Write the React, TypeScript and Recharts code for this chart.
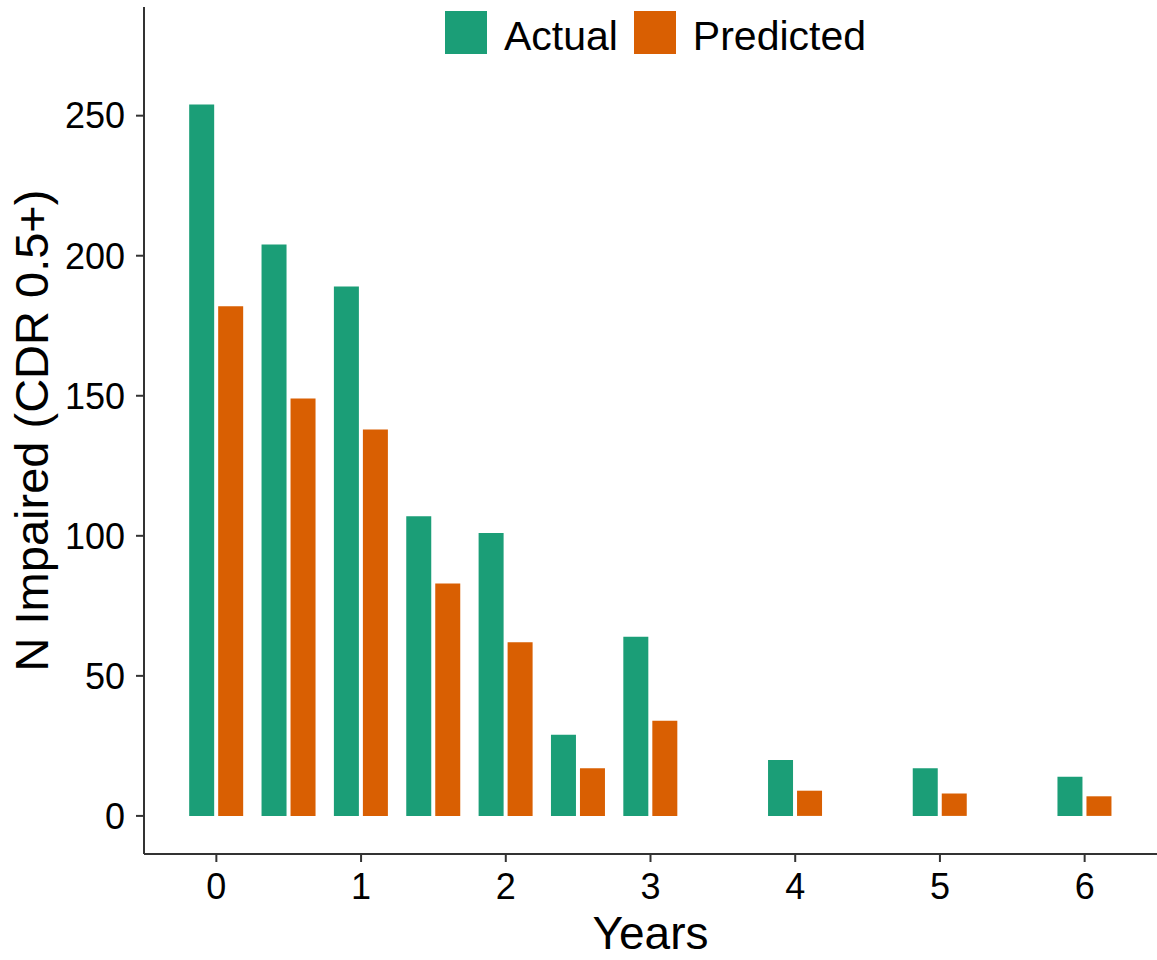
import React from 'react';
import { BarChart, Bar, XAxis, YAxis, Legend } from 'recharts';

// Time since baseline (years) and counts of impaired participants
const years = [0, 0.5, 1, 1.5, 2, 2.5, 3, 4, 5, 6];
const actual = [254, 204, 189, 107, 101, 29, 64, 20, 17, 14];
const predicted = [182, 149, 138, 83, 62, 17, 34, 9, 8, 7];

const xTicks = [0, 1, 2, 3, 4, 5, 6];
const yTicks = [0, 50, 100, 150, 200, 250];

const data = years.map((year, i) => ({
  year,
  Actual: actual[i],
  Predicted: predicted[i],
}));

const FONT = '"Liberation Sans", Arial, sans-serif';
const AXIS_COLOR = '#333333';

function LegendContent({ payload }: any) {
  return (
    <div
      style={{
        display: 'flex',
        justifyContent: 'center',
        alignItems: 'center',
        paddingLeft: 26,
        fontFamily: FONT,
        fontSize: 41,
        color: '#000',
      }}
    >
      {(payload || []).map((entry: any) => (
        <div key={entry.value} style={{ display: 'flex', alignItems: 'center', marginRight: 16 }}>
          <div style={{ width: 42, height: 43, backgroundColor: entry.color, marginRight: 17 }} />
          <span style={{ lineHeight: '43px', position: 'relative', top: 4 }}>{entry.value}</span>
        </div>
      ))}
    </div>
  );
}

export default function App() {
  return (
    <div style={{ position: 'absolute', left: 0, top: 0, background: '#fff' }}>
      <BarChart
        width={1157}
        height={960}
        data={data}
        margin={{ top: 7, right: 0, bottom: 0, left: 0 }}
        barGap={4}
      >
        <XAxis
          dataKey="year"
          type="number"
          domain={[-0.5, 6.5]}
          ticks={xTicks}
          allowDataOverflow
          height={106}
          stroke={AXIS_COLOR}
          strokeWidth={2}
          tickSize={8}
          tickMargin={11}
          tick={{ fill: '#000', fontSize: 36, fontFamily: FONT }}
          label={{
            value: 'Years',
            position: 'insideBottom',
            offset: 11,
            style: { fill: '#000', fontSize: 46, fontFamily: FONT },
          }}
        />
        <YAxis
          type="number"
          domain={[-13.6, 288.8]}
          ticks={yTicks}
          allowDataOverflow
          width={144}
          stroke={AXIS_COLOR}
          strokeWidth={2}
          tickSize={8}
          tickMargin={11}
          tick={{ fill: '#000', fontSize: 36, fontFamily: FONT }}
          label={{
            value: 'N Impaired (CDR 0.5+)',
            angle: -90,
            position: 'insideLeft',
            offset: 31,
            style: { fill: '#000', fontSize: 47, fontFamily: FONT, textAnchor: 'middle' },
          }}
        />
        <Legend
          layout="horizontal"
          verticalAlign="middle"
          align="center"
          wrapperStyle={{ top: 11, left: 144, width: 1013 }}
          content={<LegendContent />}
        />
        <Bar dataKey="Actual" fill="#1B9E77" barSize={25} isAnimationActive={false} />
        <Bar dataKey="Predicted" fill="#D95F02" barSize={25} isAnimationActive={false} />
      </BarChart>
    </div>
  );
}
